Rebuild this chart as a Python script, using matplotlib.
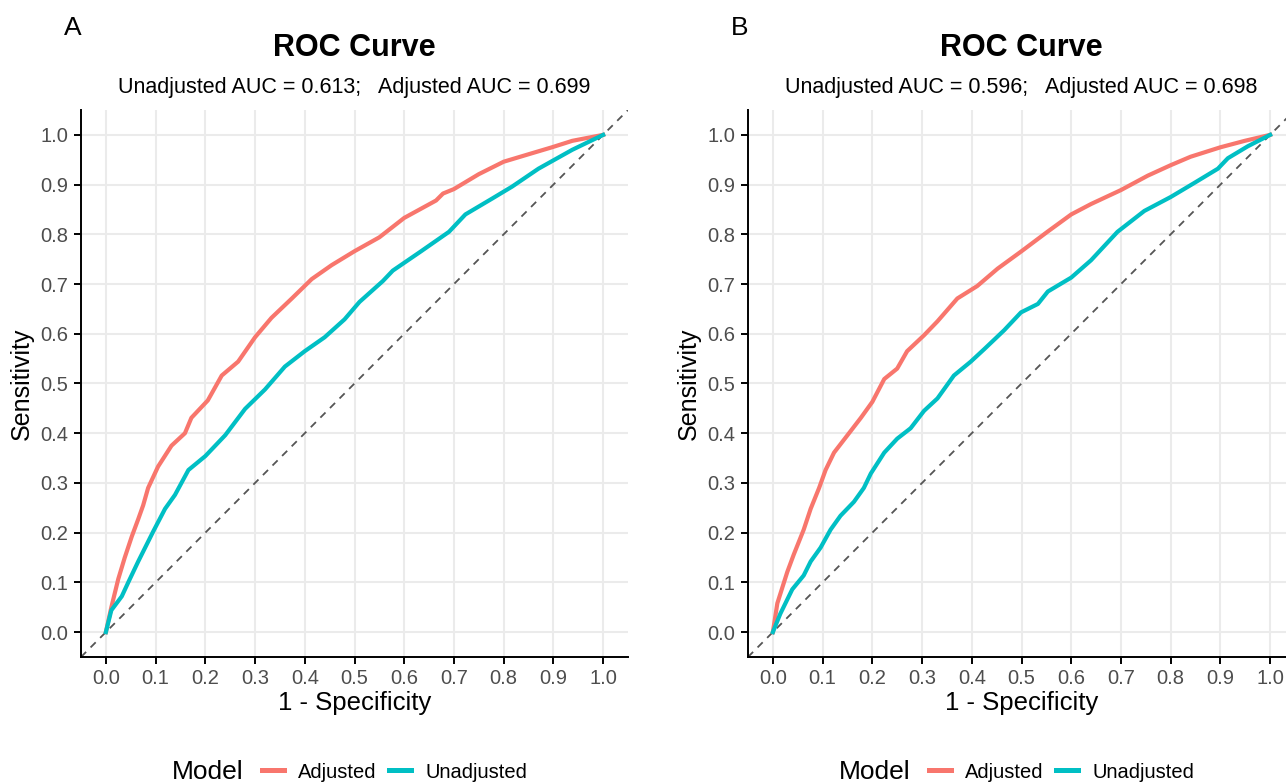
import numpy as np
import matplotlib
matplotlib.use("Agg")
import matplotlib.pyplot as plt
from matplotlib.lines import Line2D

plt.rcParams["font.family"] = ["Liberation Sans", "DejaVu Sans"]

# panel A
a_adj_x = [0, 0.011, 0.025, 0.038, 0.052, 0.065, 0.075, 0.085, 0.105, 0.132, 0.159, 0.172, 0.205,
           0.233, 0.266, 0.30, 0.333, 0.374, 0.414, 0.454, 0.5, 0.55, 0.6, 0.664, 0.678, 0.70,
           0.75, 0.80, 0.85, 0.897, 0.938, 1.0]
a_adj_y = [0, 0.05, 0.107, 0.15, 0.192, 0.227, 0.255, 0.29, 0.333, 0.375, 0.40, 0.431, 0.466,
           0.516, 0.544, 0.593, 0.632, 0.671, 0.71, 0.738, 0.766, 0.794, 0.833, 0.868, 0.882, 0.891,
           0.921, 0.946, 0.961, 0.975, 0.988, 1.0]
a_unadj_x = [0, 0.011, 0.032, 0.045, 0.065, 0.079, 0.095, 0.119, 0.139, 0.166, 0.20, 0.24, 0.28,
             0.32, 0.36, 0.40, 0.44, 0.48, 0.51, 0.557, 0.577, 0.634, 0.69, 0.723, 0.777, 0.817,
             0.87, 0.938, 1.0]
a_unadj_y = [0, 0.044, 0.072, 0.10, 0.142, 0.17, 0.202, 0.248, 0.276, 0.326, 0.354, 0.396, 0.449,
             0.488, 0.534, 0.565, 0.593, 0.629, 0.664, 0.706, 0.727, 0.766, 0.805, 0.84, 0.872, 0.896,
             0.932, 0.97, 1.0]

# panel B
b_adj_x = [0, 0.009, 0.029, 0.042, 0.062, 0.076, 0.093, 0.106, 0.123, 0.150, 0.177, 0.20, 0.224,
           0.25, 0.27, 0.304, 0.331, 0.371, 0.411, 0.452, 0.5, 0.552, 0.6, 0.64, 0.70, 0.754, 0.80,
           0.84, 0.90, 0.949, 1.0]
b_adj_y = [0, 0.058, 0.121, 0.156, 0.206, 0.248, 0.29, 0.326, 0.361, 0.396, 0.431, 0.463, 0.509,
           0.53, 0.565, 0.597, 0.625, 0.671, 0.696, 0.731, 0.766, 0.805, 0.84, 0.861, 0.889, 0.918,
           0.939, 0.956, 0.975, 0.988, 1.0]
b_unadj_x = [0, 0.015, 0.039, 0.062, 0.076, 0.096, 0.116, 0.136, 0.163, 0.183, 0.197, 0.224, 0.25,
             0.277, 0.304, 0.331, 0.364, 0.398, 0.425, 0.465, 0.499, 0.533, 0.553, 0.6, 0.64, 0.693,
             0.747, 0.80, 0.847, 0.895, 0.915, 0.955, 1.0]
b_unadj_y = [0, 0.037, 0.086, 0.114, 0.142, 0.17, 0.206, 0.234, 0.262, 0.29, 0.319, 0.361, 0.389,
             0.41, 0.445, 0.47, 0.516, 0.544, 0.569, 0.607, 0.643, 0.66, 0.685, 0.713, 0.748, 0.805,
             0.847, 0.875, 0.903, 0.932, 0.953, 0.977, 1.0]

panels = ["A", "B"]
auc_unadj = [0.613, 0.596]
auc_adj = [0.699, 0.698]
curves = [(a_adj_x, a_adj_y, a_unadj_x, a_unadj_y), (b_adj_x, b_adj_y, b_unadj_x, b_unadj_y)]
ticks = np.arange(0, 1.01, 0.1)

red = "#F8766D"
cyan = "#00BFC4"

W, H = 1286, 783
fig = plt.figure(figsize=(W / 100, H / 100), dpi=100)

lefts = [81, 748]
for i in range(2):
    l = lefts[i]
    ax = fig.add_axes([l / W, (H - 657) / H, 547 / W, 547 / H])
    ax.set_xlim(-0.05, 1.05)
    ax.set_ylim(-0.05, 1.05)
    ax.set_xticks(ticks)
    ax.set_yticks(ticks)
    ax.set_xticklabels(["%.1f" % t for t in ticks])
    ax.set_yticklabels(["%.1f" % t for t in ticks])
    ax.grid(True, color="#EBEBEB", lw=1.5)
    ax.set_axisbelow(True)
    for s in ["top", "right"]:
        ax.spines[s].set_visible(False)
    for s in ["left", "bottom"]:
        ax.spines[s].set_linewidth(1.4)
    ax.tick_params(length=5, width=1.4, labelsize=14.5, labelcolor="#4D4D4D", pad=4)
    ax.plot([-0.05, 1.05], [-0.05, 1.05], color="#555555", lw=1.3, ls=(0, (4, 3.5)))
    ax_x, ax_y, un_x, un_y = curves[i]
    ax.plot(ax_x, ax_y, color=red, lw=3.0, solid_joinstyle="round")
    ax.plot(un_x, un_y, color=cyan, lw=3.0, solid_joinstyle="round")
    ax.set_xlabel("1 - Specificity", fontsize=18.5, labelpad=2)
    ax.set_ylabel("Sensitivity", fontsize=18, labelpad=5)
    cx = (l + 547 / 2) / W
    fig.text(cx, 1 - 48 / H, "ROC Curve", ha="center", va="center", fontsize=22, fontweight="bold")
    fig.text(cx, 1 - 87 / H,
             "Unadjusted AUC = %.3f;   Adjusted AUC = %.3f" % (auc_unadj[i], auc_adj[i]),
             ha="center", va="center", fontsize=15.5)
    fig.text((l - 8) / W, 1 - 28 / H, panels[i], ha="center", va="center", fontsize=19)
    # legend below
    handles = [Line2D([], [], color=red, lw=3.6), Line2D([], [], color=cyan, lw=3.6)]
    fig.legend(handles, ["Adjusted", "Unadjusted"], loc="center left",
               bbox_to_anchor=((l + 163) / W, 1 - 772 / H), ncol=2, frameon=False,
               fontsize=14.5, handlelength=1.1, columnspacing=0.6, handletextpad=0.7)
    fig.text((l + 91) / W, 1 - 772 / H, "Model", ha="left", va="center", fontsize=19)

fig.savefig("out.png", dpi=100)
